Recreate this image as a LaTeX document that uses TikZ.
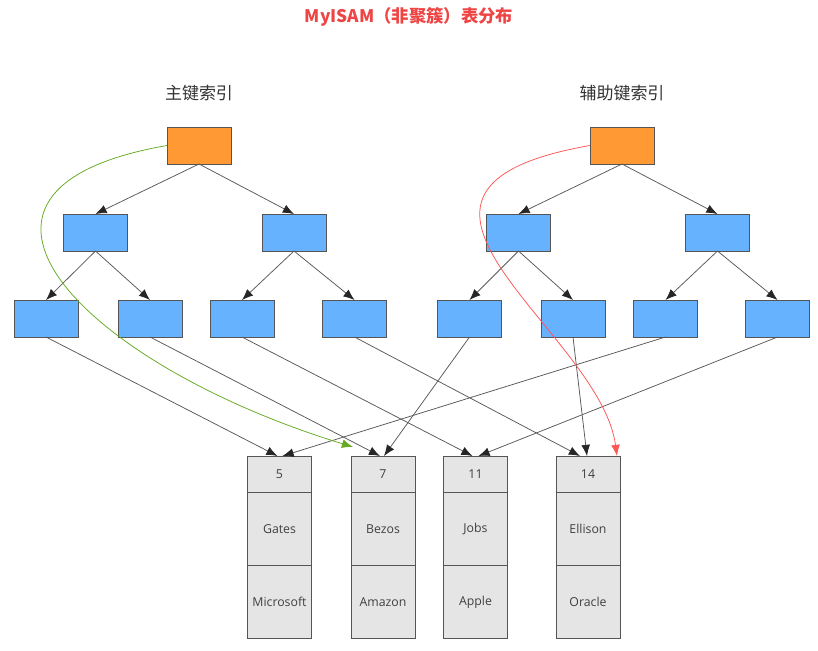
\documentclass[tikz,border=0pt]{standalone}
\usepackage{fontspec}
\setmainfont{Open Sans}
\newfontfamily\cjk{Noto Sans CJK SC}
\usetikzlibrary{calc,positioning,arrows.meta}
\definecolor{orangebox}{HTML}{FF9933}
\definecolor{bluebox}{HTML}{66B2FF}
\definecolor{rowgray}{HTML}{E5E5E5}
\definecolor{edgegray}{HTML}{555555}
\definecolor{titlered}{HTML}{EE4444}
\definecolor{pathgreen}{HTML}{66AA22}
\definecolor{pathred}{HTML}{FF5555}

\begin{document}
\begin{tikzpicture}[x=0.03cm, y=-0.03cm,
  rootbox/.style={draw=edgegray, fill=orangebox, line width=0.8pt,
    minimum width=1.92cm, minimum height=1.11cm, inner sep=0pt, outer sep=0pt},
  idxbox/.style={rootbox, fill=bluebox},
  keycell/.style={draw=edgegray, fill=rowgray, line width=0.8pt,
    minimum width=1.92cm, minimum height=1.08cm, inner sep=0pt, outer sep=0pt,
    text=black!75, font=\fontsize{10.5}{12}\selectfont},
  datacell/.style={keycell, minimum height=2.2cm},
  link/.style={draw=black!65, line width=0.65pt, -{Latex[length=9.5pt,width=7.5pt,color=black!85]}},
  label/.style={text=black!80, font=\cjk\fontsize{14.5}{16}\selectfont}]
  \useasboundingbox (0,0) rectangle (818,651);

  \node[text=titlered, font=\cjk\bfseries\fontsize{14.8}{16}\selectfont] (T) at (409,17) {MyISAM（非聚簇）表分布};
  \node[label] (LP) at (199,93) {主键索引};
  \node[label] (LS) at (622,93) {辅助键索引};

  % 主键索引
  \node[rootbox] (P) at (199,145.5) {};
  \node[idxbox] (P1) at (95.5,232.5) {};
  \node[idxbox] (P2) at (294,232.5) {};
  \node[idxbox] (P11) at (46,318.5) {};
  \node[idxbox] (P12) at (150,318.5) {};
  \node[idxbox] (P21) at (242,318.5) {};
  \node[idxbox] (P22) at (354.5,318.5) {};

  % 辅助键索引
  \node[rootbox] (S) at (622,145.5) {};
  \node[idxbox] (S1) at (518.5,232.5) {};
  \node[idxbox] (S2) at (717.5,232.5) {};
  \node[idxbox] (S11) at (469.5,318.5) {};
  \node[idxbox] (S12) at (573,318.5) {};
  \node[idxbox] (S21) at (665.5,318.5) {};
  \node[idxbox] (S22) at (777.5,318.5) {};

  % 数据行
  \node[keycell] (R5) at (279.5,474) {5};
  \node[datacell, below=0pt of R5] (N5) {Gates};
  \node[datacell, below=0pt of N5] (C5) {Microsoft};
  \node[keycell] (R7) at (383,474) {7};
  \node[datacell, below=0pt of R7] (N7) {Bezos};
  \node[datacell, below=0pt of N7] (C7) {Amazon};
  \node[keycell] (R11) at (475.5,474) {11};
  \node[datacell, below=0pt of R11] (N11) {Jobs};
  \node[datacell, below=0pt of N11] (C11) {Apple};
  \node[keycell] (R14) at (588,474) {14};
  \node[datacell, below=0pt of R14] (N14) {Ellison};
  \node[datacell, below=0pt of N14] (C14) {Oracle};

  \draw[link] (P.south) -- (P1.north);
  \draw[link] (P.south) -- (P2.north);
  \draw[link] (P1.south) -- (P11.north);
  \draw[link] (P1.south) -- (P12.north);
  \draw[link] (P2.south) -- (P21.north);
  \draw[link] (P2.south) -- (P22.north);
  \draw[link] (S.south) -- (S1.north);
  \draw[link] (S.south) -- (S2.north);
  \draw[link] (S1.south) -- (S11.north);
  \draw[link] (S1.south) -- (S12.north);
  \draw[link] (S2.south) -- (S21.north);
  \draw[link] (S2.south) -- (S22.north);

  \draw[link] (P11.south) -- ($(R5.north)+(-2,0)$);
  \draw[link] (P12.south) -- ($(R7.north)+(-3,0)$);
  \draw[link] (P21.south) -- ($(R11.north)+(-3,0)$);
  \draw[link] (P22.south) -- ($(R14.north)+(-8,0)$);
  \draw[link] (S11.south) -- ($(R7.north)+(1,0)$);
  \draw[link] (S12.south) -- ($(R14.north)+(-1,0)$);
  \draw[link] (S21.south) -- ($(R5.north)+(3,0)$);
  \draw[link] (S22.south) -- ($(R11.north)+(3,0)$);

  % 查找路径
  \coordinate (G) at ($(R7.north west)+(2,-9)$);
  \coordinate (H) at ($(R14.north east)+(-3,0)$);
  \draw[pathgreen, line width=0.65pt, -{Latex[length=9.5pt,width=7.5pt]}]
    (P.west) .. controls (-90,190) and (85,365) .. (G);
  \draw[pathred, line width=0.65pt, -{Latex[length=9.5pt,width=7.5pt]}]
    (S.west) .. controls (335,190) and (600,330) .. (H);
\end{tikzpicture}
\end{document}
